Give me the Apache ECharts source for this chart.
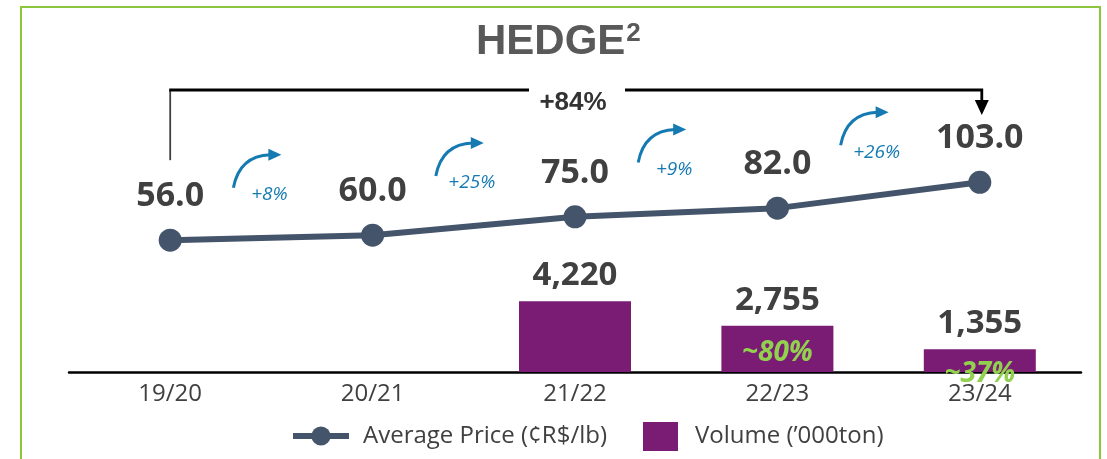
<!DOCTYPE html>
<html lang="en">
    <head>
        <meta charset="UTF-8" />
        <title>HEDGE</title>
        <script src="https://cdn.jsdelivr.net/npm/echarts@6.0.0/dist/echarts.min.js"></script>
        <style>
            html, body { margin: 0; padding: 0; background: #fff; }
        </style>
    </head>
    <body>
        <!-- Chart container -->
        <div id="main" style="width: 1107px; height: 459px"></div>

        <script>
            // Data
            const seasons = ["19/20", "20/21", "21/22", "22/23", "23/24"];
            const avgPrice = [56.0, 60.0, 75.0, 82.0, 103.0];
            const hedgeVolume = [null, null, 4220, 2755, 1355];
            const growthLabels = ["+8%", "+25%", "+9%", "+26%"];
            const totalGrowth = "+84%";
            const shareLabels = [null, null, null, "~80%", "~37%"];

            const textColor = "#404040";
            const lineColor = "#44546A";
            const barColor = "#7B1C74";
            const arrowColor = "#157AB2";
            const font = "Open Sans";

            let myChart = echarts.init(document.getElementById("main"));

            let options = {
                animation: false,
                title: {
                    text: "{h|HEDGE}{s|2}",
                    left: 471,
                    top: 16,
                    textStyle: {
                        rich: {
                            h: { fontFamily: "Liberation Sans", fontWeight: "bold", fontSize: 42, color: "#595959" },
                            s: {
                                fontFamily: "Liberation Sans",
                                fontWeight: "bold",
                                fontSize: 26,
                                color: "#595959",
                                verticalAlign: "top",
                                padding: [0, 0, 0, 1]
                            }
                        }
                    }
                },
                legend: [
                    {
                        data: ["Average Price (¢R$/lb)"],
                        left: 290,
                        top: 424,
                        padding: 0,
                        itemWidth: 56,
                        itemHeight: 24,
                        lineStyle: { width: 6 },
                        textStyle: { fontFamily: font, fontSize: 24, color: textColor, padding: [0, 0, 0, 9] }
                    },
                    {
                        data: ["Volume (’000ton)"],
                        left: 643,
                        top: 422,
                        padding: 0,
                        icon: "rect",
                        itemWidth: 35,
                        itemHeight: 29,
                        textStyle: { fontFamily: font, fontSize: 24, color: textColor, padding: [0, 0, 0, 12] }
                    }
                ],
                grid: { left: 69, right: 26, top: 80, bottom: 87 },
                xAxis: {
                    type: "category",
                    data: seasons,
                    axisLine: { lineStyle: { color: "#000", width: 2.5 } },
                    axisTick: { show: false },
                    axisLabel: { fontFamily: font, fontSize: 24, color: textColor, margin: 10 }
                },
                yAxis: [
                    { type: "value", min: 0, max: 17400, show: false, splitLine: { show: false } },
                    { type: "value", min: -51, max: 186, show: false, splitLine: { show: false } }
                ],
                series: [
                    {
                        name: "Volume (’000ton)",
                        type: "bar",
                        yAxisIndex: 0,
                        data: hedgeVolume,
                        barWidth: 112,
                        itemStyle: { color: barColor },
                        label: {
                            show: true,
                            position: "top",
                            distance: 9,
                            fontFamily: font,
                            fontWeight: "bold",
                            fontSize: 33,
                            color: textColor,
                            formatter: (p) => p.value.toLocaleString("en-US")
                        }
                    },
                    {
                        name: "Average Price (¢R$/lb)",
                        type: "line",
                        yAxisIndex: 1,
                        data: avgPrice,
                        symbol: "circle",
                        symbolSize: 23,
                        lineStyle: { color: lineColor, width: 6 },
                        itemStyle: { color: lineColor },
                        label: {
                            show: true,
                            position: "top",
                            distance: 15,
                            fontFamily: font,
                            fontWeight: "bold",
                            fontSize: 34,
                            color: textColor,
                            formatter: (p) => p.value.toFixed(1)
                        }
                    }
                ]
            };

            myChart.setOption(options);

            // Annotations: border, bracket, growth arrows, hedge share
            const px = (i) => myChart.convertToPixel({ xAxisIndex: 0 }, i);
            const py = (v) => myChart.convertToPixel({ yAxisIndex: 1 }, v);
            const pyBar = (v) => myChart.convertToPixel({ yAxisIndex: 0 }, v);

            const graphics = [];

            // green frame
            graphics.push({
                type: "rect",
                shape: { x: 21, y: 7, width: 1079, height: 520 },
                style: { fill: "none", stroke: "#8CC63F", lineWidth: 2 },
                silent: true
            });

            // total growth bracket
            const x0 = px(0), x4 = px(4);
            const xm = (x0 + x4) / 2;
            const topY = 90;
            graphics.push({
                type: "line",
                shape: { x1: x0, y1: py(avgPrice[0]) - 80, x2: x0, y2: topY },
                style: { stroke: "#404040", lineWidth: 1.8 }
            });
            graphics.push({
                type: "line",
                shape: { x1: x0 - 1, y1: topY, x2: xm - 46, y2: topY },
                style: { stroke: "#000", lineWidth: 2.8 }
            });
            graphics.push({
                type: "polyline",
                shape: { points: [[xm + 50, topY], [x4 + 2, topY], [x4 + 2, topY + 11]] },
                style: { stroke: "#000", lineWidth: 2.8, fill: "none" }
            });
            graphics.push({
                type: "polygon",
                shape: { points: [[x4 - 5, topY + 10], [x4 + 9, topY + 10], [x4 + 2, topY + 25]] },
                style: { fill: "#000" }
            });
            graphics.push({
                type: "text",
                x: xm - 2,
                y: topY + 13,
                style: {
                    text: totalGrowth,
                    fontFamily: "Liberation Sans",
                    fontWeight: "bold",
                    fontSize: 26,
                    fill: "#333",
                    align: "center",
                    verticalAlign: "middle"
                }
            });

            // year on year arrows
            growthLabels.forEach((txt, i) => {
                const mx = (px(i) + px(i + 1)) / 2;
                const my = (py(avgPrice[i]) + py(avgPrice[i + 1])) / 2;
                const sx = mx - 38, sy = my - 50;
                const ex = mx - 1, ey = my - 83;
                graphics.push({
                    type: "bezierCurve",
                    shape: { x1: sx, y1: sy, x2: ex, y2: ey, cpx1: sx + 6, cpy1: ey + 1 },
                    style: { stroke: arrowColor, lineWidth: 3, fill: "none" }
                });
                graphics.push({
                    type: "polygon",
                    shape: { points: [[ex - 2, ey - 6], [ex + 11, ey], [ex - 2, ey + 6]] },
                    style: { fill: arrowColor }
                });
                graphics.push({
                    type: "text",
                    x: mx - 2,
                    y: my - 43,
                    style: {
                        text: txt,
                        fontFamily: font,
                        fontStyle: "italic",
                        fontSize: 19,
                        fill: arrowColor,
                        align: "center",
                        verticalAlign: "middle"
                    }
                });
            });

            // hedge share inside the bars
            const shareOffset = [0, 0, 0, -19, 2];
            shareLabels.forEach((txt, i) => {
                if (!txt) return;
                graphics.push({
                    type: "text",
                    x: px(i),
                    y: pyBar(0) + shareOffset[i],
                    z: 100,
                    style: {
                        text: txt,
                        fontFamily: font,
                        fontStyle: "italic",
                        fontWeight: "bold",
                        fontSize: 28,
                        fill: "#92D050",
                        align: "center",
                        verticalAlign: "middle"
                    }
                });
            });

            myChart.setOption({ graphic: graphics });
        </script>
    </body>
</html>
